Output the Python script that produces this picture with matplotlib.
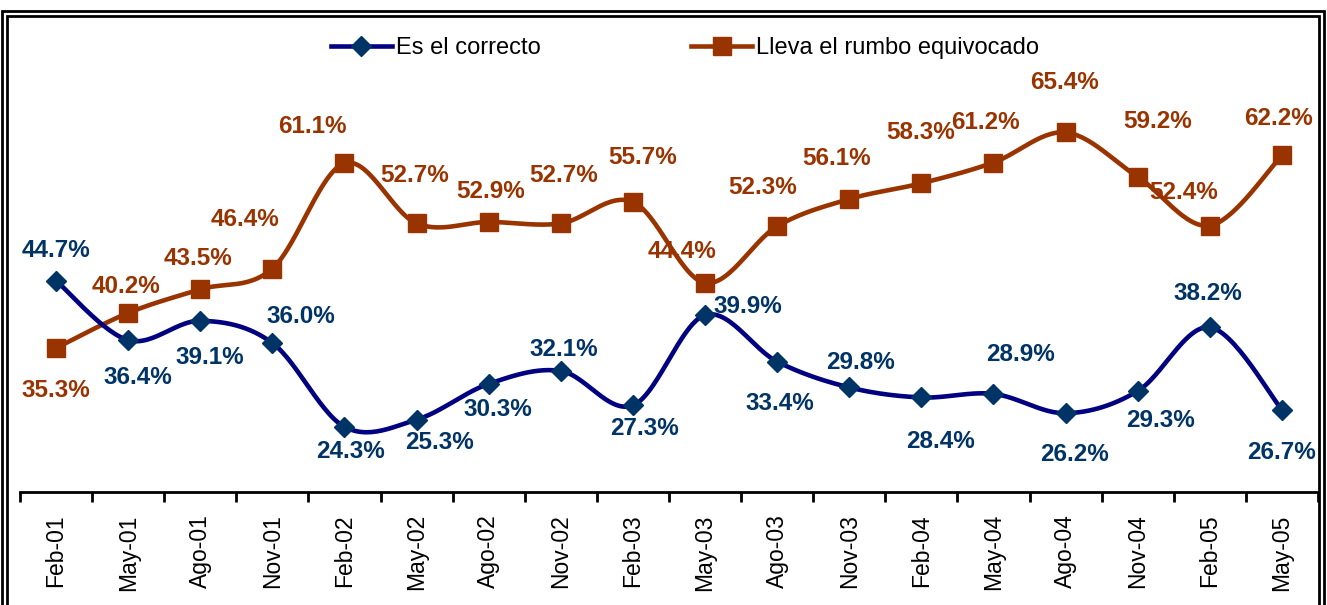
import matplotlib
matplotlib.use('Agg')
import matplotlib.pyplot as plt
from matplotlib.lines import Line2D
from matplotlib.patches import Rectangle
import numpy as np

plt.rcParams['font.family'] = ['Liberation Sans', 'DejaVu Sans']

meses = ['Feb-01', 'May-01', 'Ago-01', 'Nov-01', 'Feb-02', 'May-02', 'Ago-02', 'Nov-02', 'Feb-03',
         'May-03', 'Ago-03', 'Nov-03', 'Feb-04', 'May-04', 'Ago-04', 'Nov-04', 'Feb-05', 'May-05']
correcto = [44.7, 36.4, 39.1, 36.0, 24.3, 25.3, 30.3, 32.1, 27.3,
            39.9, 33.4, 29.8, 28.4, 28.9, 26.2, 29.3, 38.2, 26.7]
equivocado = [35.3, 40.2, 43.5, 46.4, 61.1, 52.7, 52.9, 52.7, 55.7,
              44.4, 52.3, 56.1, 58.3, 61.2, 65.4, 59.2, 52.4, 62.2]

# label offsets in pixels (dx, dy)
off_correcto = [(0, 30), (10, -37), (10, -37), (28, 27), (6, -25), (23, -23), (9, -26), (3, 21), (12, -23),
                (43, 9), (3, -42), (11, 25), (19, -44), (27, 39), (9, -41), (23, -29), (-2, 34), (0, -43)]
off_equivocado = [(0, -42), (-2, 26), (-2, 31), (-27, 49), (-32, 37), (-2, 48), (2, 30), (3, 48), (10, 44),
                  (-23, 31), (-15, 39), (-13, 41), (-1, 51), (-8, 40), (-1, 50), (20, 55), (-26, 33), (-3, 37)]

AZUL_LINEA = '#000080'
AZUL = '#003366'
NARANJA = '#993300'


def suavizar(x, y, n=30):
    # Catmull-Rom like Excel smoothed lines
    x = np.asarray(x, float)
    y = np.asarray(y, float)
    px = np.concatenate([[x[0]], x, [x[-1]]])
    py = np.concatenate([[y[0]], y, [y[-1]]])
    xs, ys = [], []
    t = np.linspace(0, 1, n)
    for i in range(1, len(px) - 2):
        p0x, p1x, p2x, p3x = px[i - 1], px[i], px[i + 1], px[i + 2]
        p0y, p1y, p2y, p3y = py[i - 1], py[i], py[i + 1], py[i + 2]
        c1x, c1y = p1x + (p2x - p0x) / 6, p1y + (p2y - p0y) / 6
        c2x, c2y = p2x - (p3x - p1x) / 6, p2y - (p3y - p1y) / 6
        bx = (1 - t) ** 3 * p1x + 3 * (1 - t) ** 2 * t * c1x + 3 * (1 - t) * t ** 2 * c2x + t ** 3 * p2x
        by = (1 - t) ** 3 * p1y + 3 * (1 - t) ** 2 * t * c1y + 3 * (1 - t) * t ** 2 * c2y + t ** 3 * p2y
        xs.extend(bx)
        ys.extend(by)
    return np.array(xs), np.array(ys)


fig = plt.figure(figsize=(13.27, 6.05), dpi=100)
ax = fig.add_axes([20 / 1327, 113 / 605, 1298 / 1327, 472 / 605])

x = np.arange(len(meses))

sx, sy = suavizar(x, equivocado)
ax.plot(sx, sy, color=NARANJA, lw=3.3, solid_capstyle='round', zorder=2)
ax.plot(x, equivocado, ls='none', marker='s', ms=12.5, color=NARANJA, zorder=3)

sx, sy = suavizar(x, correcto)
ax.plot(sx, sy, color=AZUL_LINEA, lw=3.3, solid_capstyle='round', zorder=2)
ax.plot(x, correcto, ls='none', marker='D', ms=10.5, color=AZUL, zorder=3)

for i in range(len(meses)):
    ax.annotate('{:.1f}%'.format(correcto[i]), (x[i], correcto[i]), xytext=off_correcto[i],
                textcoords='offset pixels', ha='center', va='center',
                fontsize=17.5, fontweight='bold', color=AZUL)
    ax.annotate('{:.1f}%'.format(equivocado[i]), (x[i], equivocado[i]), xytext=off_equivocado[i],
                textcoords='offset pixels', ha='center', va='center',
                fontsize=17.5, fontweight='bold', color=NARANJA)

ax.set_xlim(-0.5, len(meses) - 0.5)
ax.set_ylim(15.2, 81.1)
for s in ['top', 'right', 'left']:
    ax.spines[s].set_visible(False)
ax.spines['bottom'].set_linewidth(2)
ax.set_yticks([])
ax.set_xticks(x)
ax.set_xticklabels(meses, rotation=90, fontsize=16.5)
ax.tick_params(axis='x', which='major', length=0, pad=16)
ax.set_xticks(np.arange(-0.5, len(meses)), minor=True)
ax.tick_params(axis='x', which='minor', length=7, width=2, direction='out')

h1 = Line2D([], [], color=AZUL_LINEA, lw=3.3, marker='D', ms=10.5, mfc=AZUL, mec=AZUL)
h2 = Line2D([], [], color=NARANJA, lw=3.3, marker='s', ms=12.5, mfc=NARANJA, mec=NARANJA)
fig.legend([h1, h2], ['Es el correcto', 'Lleva el rumbo equivocado'], loc='center',
           bbox_to_anchor=(685 / 1327, 1 - 48 / 605), ncol=2, frameon=False,
           fontsize=17, handlelength=2.55, handletextpad=0.17, columnspacing=6.4)

# double border
fig.patches.append(Rectangle((2 / 1327, -0.02), 1322 / 1327, 1.02 - 11 / 605, transform=fig.transFigure,
                             fill=False, ec='black', lw=2))
fig.patches.append(Rectangle((7 / 1327, -0.02), 1312 / 1327, 1.02 - 16 / 605, transform=fig.transFigure,
                             fill=False, ec='black', lw=2))

plt.savefig('out.png', dpi=100)
